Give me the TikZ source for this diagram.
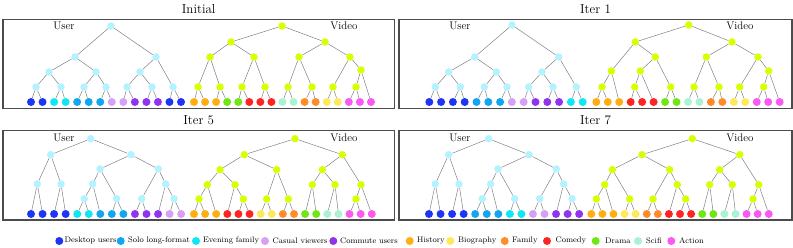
\documentclass[tikz,border=0pt]{standalone}
\usepackage{xcolor}
\usepackage{tikz}
\definecolor{ucol}{HTML}{B3F2FF}
\definecolor{vcol}{HTML}{D9FF00}
\definecolor{dsk}{HTML}{1F35F5}
\definecolor{solo}{HTML}{12A6F0}
\definecolor{eve}{HTML}{12E6F2}
\definecolor{cas}{HTML}{D7A0F2}
\definecolor{com}{HTML}{9233EE}
\definecolor{his}{HTML}{FFAF14}
\definecolor{bio}{HTML}{FFE85A}
\definecolor{fam}{HTML}{FF8C28}
\definecolor{cmd}{HTML}{FF2424}
\definecolor{dra}{HTML}{70E614}
\definecolor{sci}{HTML}{AAF2D2}
\definecolor{act}{HTML}{FA5AF0}

\begin{document}
\begin{tikzpicture}[x=1pt,y=-1pt,
  un/.style={circle,fill=ucol,minimum size=7.5pt,inner sep=0pt},
  vn/.style={circle,fill=vcol,minimum size=7.5pt,inner sep=0pt},
  lf/.style={circle,fill=#1,minimum size=8pt,inner sep=0pt},
  e/.style={draw=black!50,line width=0.5pt},
  pnl/.style={draw=black!70,line width=1.3pt},
  ttl/.style={font=\fontsize{13}{15}\selectfont,anchor=base},
  tag/.style={font=\fontsize{11}{13}\selectfont,anchor=base},
  lg/.style={font=\fontsize{8}{9}\selectfont,anchor=west,inner sep=0pt}
]
\useasboundingbox (0,0) rectangle (793,248);
\draw[pnl] (3,19.3) rectangle (394.5,108.7);
\draw[pnl] (399,19.3) rectangle (792,108.7);
\draw[pnl] (3,130.7) rectangle (394.5,220);
\draw[pnl] (399,130.7) rectangle (792,220);
\node[ttl] (ti1) at (198.7,13.3) {Initial};
\node[ttl] (ti2) at (595.5,13.3) {Iter 1};
\node[ttl] (ti3) at (198.7,124.7) {Iter 5};
\node[ttl] (ti4) at (595.5,124.7) {Iter 7};
\node[tag] (tu1) at (64,30) {User};
\node[tag] (tv1) at (344,30) {Video};
\node[tag] (tu2) at (460,30) {User};
\node[tag] (tv2) at (740,30) {Video};
\node[tag] (tu3) at (64,141.7) {User};
\node[tag] (tv3) at (344,141.7) {Video};
\node[tag] (tu4) at (460,141.7) {User};
\node[tag] (tv4) at (740,141.7) {Video};

\foreach \n/\x/\y in {r/111/26,n1/75/57,n2/156/57,n3/49/72,n4/96/72,n5/140/72,n6/36/87,n7/61/87,n8/84/87,n9/106/87,n10/127/87,n11/152/87,n12/173/87} \node[un] (au\n) at (\x,\y) {};
\foreach \c [count=\i] in {dsk,dsk,eve,eve,solo,solo,solo,cas,cas,com,com,com,dsk,dsk} \node[lf=\c] (aul\i) at ({31+11.54*(\i-1)},102) {};
\foreach \p/\q in {r/n1,r/n2,n1/n3,n1/n4,n2/n5,n2/n12,n3/n6,n3/n7,n4/n8,n4/n9,n5/n10,n5/n11,n6/l1,n6/l2,n7/l3,n7/l4,n8/l5,n8/l6,n9/l7,n9/l8,n10/l9,n10/l10,n11/l11,n11/l12,n12/l13,n12/l14} \draw[e] (au\p)--(au\q);

\foreach \n/\x/\y in {r/282/26,n1/231/42,n2/325/42,n3/210/57,n4/254/57,n5/299/57,n6/350/57,n7/361/70,n8/198/87,n9/220/87,n10/242/87,n11/265/87,n12/288/87,n13/312/87,n14/333/87,n15/356/87} \node[vn] (av\n) at (\x,\y) {};
\foreach \c [count=\i] in {his,his,his,dra,dra,cmd,cmd,cmd,sci,sci,fam,fam,bio,bio,act,act,act} \node[lf=\c] (avl\i) at ({194+11.06*(\i-1)},102) {};
\foreach \p/\q in {r/n1,r/n2,n1/n3,n1/n4,n2/n5,n2/n6,n3/n8,n3/n9,n4/n10,n4/n11,n5/n12,n5/n13,n6/n14,n6/n7,n7/n15,n7/l17,n8/l1,n8/l2,n9/l3,n9/l4,n10/l5,n10/l6,n11/l7,n11/l8,n12/l9,n12/l10,n13/l11,n13/l12,n14/l13,n14/l14,n15/l15,n15/l16} \draw[e] (av\p)--(av\q);

\foreach \n/\x/\y in {r/512/25,n1/474.7/57,n2/558.7/57,n3/448.7/72,n4/496.3/72,n5/542/72,n6/435.3/87,n7/460.3/87,n8/484.3/87,n9/507/87,n10/528.7/87,n11/553/87,n12/576.3/87} \node[un] (bu\n) at (\x,\y) {};
\foreach \c [count=\i] in {dsk,dsk,dsk,dsk,solo,solo,solo,cas,cas,com,com,com,eve,eve} \node[lf=\c] (bul\i) at ({429.3+11.8*(\i-1)},102) {};
\foreach \p/\q in {r/n1,r/n2,n1/n3,n1/n4,n2/n5,n2/n12,n3/n6,n3/n7,n4/n8,n4/n9,n5/n10,n5/n11,n6/l1,n6/l2,n7/l3,n7/l4,n8/l5,n8/l6,n9/l7,n9/l8,n10/l9,n10/l10,n11/l11,n11/l12,n12/l13,n12/l14} \draw[e] (bu\p)--(bu\q);

\foreach \n/\x/\y in {r/688.7/25,n1/635.3/42,n2/732/42,n3/611.3/71,n4/655.3/57,n5/602/87,n6/640.3/71,n7/670.7/87,n8/634.7/87,n9/706.3/57,n10/758/57,n11/694/87,n12/719/87,n13/739.7/87,n14/768.7/71,n15/763.7/87} \node[vn] (bv\n) at (\x,\y) {};
\foreach \c [count=\i] in {his,his,his,cmd,cmd,cmd,dra,dra,sci,sci,fam,fam,bio,bio,act,act,act} \node[lf=\c] (bvl\i) at ({596.3+11.46*(\i-1)},102) {};
\foreach \p/\q in {r/n1,r/n2,n1/n3,n1/n4,n3/n5,n3/l3,n5/l1,n5/l2,n4/n6,n4/n7,n6/n8,n6/l6,n8/l4,n8/l5,n7/l7,n7/l8,n2/n9,n2/n10,n9/n11,n9/n12,n11/l9,n11/l10,n12/l11,n12/l12,n10/n13,n10/n14,n13/l13,n13/l14,n14/n15,n14/l17,n15/l15,n15/l16} \draw[e] (bv\p)--(bv\q);

\foreach \n/\x/\y in {r/90.7/138.7,n1/50.7/154.7,n2/131/154.7,n3/100/169,n4/158.3/169,n5/37.3/184,n6/61/184,n7/92.7/184,n8/165.7/184,n9/84.3/198.7,n10/116.7/198.7,n11/141.7/198.7,n12/174/198.7} \node[un] (cu\n) at (\x,\y) {};
\foreach \c [count=\i] in {dsk,dsk,dsk,dsk,eve,eve,solo,solo,solo,com,com,com,cas,cas} \node[lf=\c] (cul\i) at ({31+11.55*(\i-1)},214) {};
\foreach \p/\q in {r/n1,r/n2,n1/n5,n1/n6,n2/n3,n2/n4,n3/n7,n3/n10,n4/n11,n4/n8,n5/l1,n5/l2,n6/l3,n6/l4,n7/n9,n7/l7,n9/l5,n9/l6,n10/l8,n10/l9,n11/l10,n11/l11,n8/l12,n8/n12,n12/l13,n12/l14} \draw[e] (cu\p)--(cu\q);

\foreach \n/\x/\y in {r/295/138.7,n1/244.3/154.7,n2/342.3/154.7,n3/220/169.7,n4/276.7/169.7,n5/322.3/169.7,n6/207.3/184.7,n7/235/184.7,n8/199/199,n9/243.3/199,n10/266.7/199,n11/288.3/199,n12/312.3/184.7,n13/335/184.7,n14/361/184.7,n15/356/199} \node[vn] (cv\n) at (\x,\y) {};
\foreach \c [count=\i] in {his,his,his,cmd,cmd,cmd,bio,bio,fam,fam,dra,dra,sci,sci,act,act,act} \node[lf=\c] (cvl\i) at ({194+11.11*(\i-1)},214) {};
\foreach \p/\q in {r/n1,r/n2,n1/n3,n1/n4,n3/n6,n3/n7,n6/n8,n6/l3,n8/l1,n8/l2,n7/l4,n7/n9,n9/l5,n9/l6,n4/n10,n4/n11,n10/l7,n10/l8,n11/l9,n11/l10,n2/n5,n2/n14,n5/n12,n5/n13,n12/l11,n12/l12,n13/l13,n13/l14,n14/n15,n14/l17,n15/l15,n15/l16} \draw[e] (cv\p)--(cv\q);

\foreach \n/\x/\y in {r/488.7/138.7,n1/448.7/154.7,n2/529/154.7,n3/498/169,n4/556.3/169,n5/435.3/184,n6/459/184,n7/490.7/184,n8/563.7/184,n9/482.3/198.7,n10/514.7/198.7,n11/539.7/198.7,n12/572/198.7} \node[un] (du\n) at (\x,\y) {};
\foreach \c [count=\i] in {dsk,dsk,dsk,dsk,solo,solo,solo,eve,eve,cas,cas,com,com,com} \node[lf=\c] (dul\i) at ({429+11.55*(\i-1)},214) {};
\foreach \p/\q in {r/n1,r/n2,n1/n5,n1/n6,n2/n3,n2/n4,n3/n7,n3/n10,n4/n11,n4/n8,n5/l1,n5/l2,n6/l3,n6/l4,n7/n9,n7/l7,n9/l5,n9/l6,n10/l8,n10/l9,n11/l10,n11/l11,n8/l12,n8/n12,n12/l13,n12/l14} \draw[e] (du\p)--(du\q);

\foreach \n/\x/\y in {r/692.3/138.7,n1/642/154.7,n2/739.7/154.7,n3/612.3/169.7,n4/669.7/169.7,n5/604.7/184.7,n6/629.7/199,n7/596.3/199,n8/653/199,n9/677.3/184.7,n10/685.7/199,n11/719.7/169.7,n12/758.7/184.7,n13/709.7/184.7,n14/732.3/184.7,n15/753/199} \node[vn] (dv\n) at (\x,\y) {};
\foreach \c [count=\i] in {his,his,his,bio,bio,fam,fam,cmd,cmd,cmd,dra,dra,sci,sci,act,act,act} \node[lf=\c] (dvl\i) at ({591.3+11.09*(\i-1)},214) {};
\foreach \p/\q in {r/n1,r/n2,n1/n3,n1/n4,n3/n5,n3/n6,n5/n7,n5/l3,n7/l1,n7/l2,n6/l4,n6/l5,n4/n8,n4/n9,n8/l6,n8/l7,n9/l8,n9/n10,n10/l9,n10/l10,n2/n11,n2/n12,n11/n13,n11/n14,n13/l11,n13/l12,n14/l13,n14/l14,n12/n15,n12/l17,n15/l15,n15/l16} \draw[e] (dv\p)--(dv\q);

\foreach \c/\mx/\tx/\t [count=\i] in {dsk/59.3/64.5/Desktop users,solo/120.7/128/Solo long-format,eve/196/203/Evening family,cas/265/272.5/Casual viewers,com/333.3/340/Commute users,his/409.7/417/History,bio/450.3/458/Biography,fam/504.7/512/Family,cmd/547/555.5/Comedy,dra/595.7/605/Drama,sci/638/646/Scifi,act/671.3/679/Action}
  {\node[lf=\c] (k\i) at (\mx,241) {};
   \node[lg] (t\i) at (\tx,241) {\t};}
\end{tikzpicture}
\end{document}
